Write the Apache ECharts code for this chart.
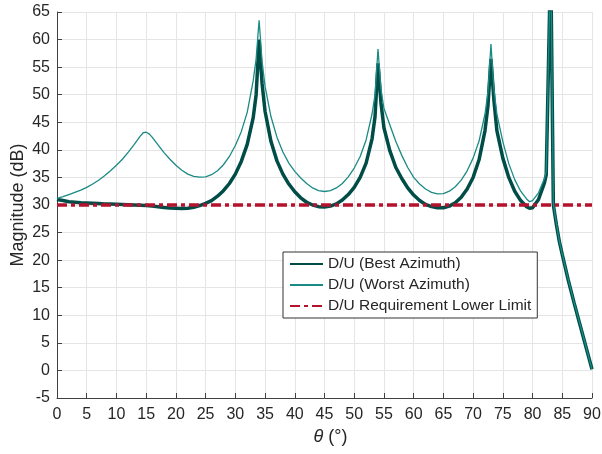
<!DOCTYPE html>
<html>
<head>
<meta charset="utf-8">
<script src="https://cdn.jsdelivr.net/npm/echarts@6/dist/echarts.min.js"></script>
<style>
  html, body { margin: 0; padding: 0; background: #fff; }
  #chart { width: 602px; height: 454px; }
</style>
</head>
<body>
<div id="chart"></div>
<script>
// Elevation angle samples (degrees) and D/U ratio (dB) for the best azimuth
const bestTheta = [0,1,2,3,4,5,6,7,8,9,10,11,12,13,14,15,16,17,18,19,20,21,22,23,24,25,26,27,28,29,30,31,32,33,33.5,34,34.5,35,36,37,38,39,40,41,42,43,44,45,46,47,48,49,50,51,52,53,53.5,54,54.5,55,56,57,58,59,60,61,62,63,64,65,66,67,68,69,70,71,72,72.5,73,73.5,74,75,76,77,78,79,79.5,80,81,82,82.3,83.05,83.5,84,84.5,85,86,87,88,89,90];
const bestDU = [31.0,30.8,30.6,30.5,30.4,30.35,30.3,30.25,30.2,30.2,30.15,30.1,30.05,30.0,29.95,29.9,29.8,29.7,29.55,29.45,29.4,29.35,29.4,29.6,29.9,30.3,30.8,31.6,32.6,33.9,35.6,37.9,41.0,45.8,50.0,60.0,52.0,47.0,41.5,38.0,35.6,33.8,32.4,31.3,30.5,30.0,29.7,29.65,29.8,30.2,30.9,31.9,33.2,35.0,37.6,42.0,46.0,55.7,48.5,44.0,39.8,36.8,34.8,33.1,31.8,30.8,30.1,29.7,29.5,29.5,29.8,30.4,31.4,32.9,35.0,38.2,43.5,48.0,56.5,49.0,43.5,38.5,35.0,32.5,30.8,29.7,29.4,29.5,31.0,34.0,35.5,75.0,30.0,26.5,23.4,21.0,16.4,12.2,8.2,4.2,0.2];

// Elevation angle samples (degrees) and D/U ratio (dB) for the worst azimuth
const worstTheta = [0,1,2,3,4,5,6,7,8,9,10,11,12,13,14,14.5,15,15.5,16,17,18,19,20,21,22,23,24,25,26,27,28,29,30,31,32,33,33.5,34,34.5,35,36,37,38,39,40,41,42,43,44,45,46,47,48,49,50,51,52,53,53.5,54,54.5,55,56,57,58,59,60,61,62,63,64,65,66,67,68,69,70,71,72,72.5,73,73.5,74,75,76,77,78,79,79.5,80,81,82,82.3,83.05,83.5,84,84.5,85,86,87,88,89,90];
const worstDU = [31.2,31.5,31.9,32.3,32.7,33.2,33.8,34.5,35.3,36.2,37.2,38.3,39.6,41.0,42.5,43.1,43.2,42.9,42.3,40.9,39.5,38.3,37.2,36.3,35.6,35.2,35.05,35.1,35.5,36.2,37.3,38.8,40.8,43.3,46.8,52.5,56.5,63.5,56.0,51.5,46.0,42.3,39.6,37.6,36.1,34.9,33.9,33.1,32.6,32.45,32.6,33.1,33.9,35.1,36.7,38.8,41.8,46.5,50.0,58.3,51.0,47.5,44.5,41.5,39.0,36.8,35.0,33.8,32.9,32.3,32.0,32.05,32.5,33.3,34.5,36.2,38.5,41.6,46.5,50.5,59.2,51.0,46.5,41.5,37.5,34.6,32.5,31.1,30.6,30.8,32.2,34.8,36.0,76.0,30.3,26.7,23.5,21.1,16.5,12.3,8.3,4.3,0.2];

// Requirement lower limit
const limitTheta = [0, 90];
const limitDU = [30, 30];

// Axis ticks
const xTicks = { min: 0, max: 90, step: 5 };
const yTicks = { min: -5, max: 65, step: 5 };

const seriesNames = ['D/U (Best Azimuth)', 'D/U (Worst Azimuth)', 'D/U Requirement Lower Limit'];

const pairs = (xs, ys) => xs.map((x, i) => [x, ys[i]]);

const font = '"Liberation Sans", Arial, Helvetica, sans-serif';
const textColor = '#262626';
const axisColor = '#404040';
const gridColor = '#e5e5e5';

const chart = echarts.init(document.getElementById('chart'), null, { renderer: 'canvas' });

chart.setOption({
  animation: false,
  backgroundColor: '#ffffff',
  grid: { left: 57, right: 10, top: 12, bottom: 56, containLabel: false, outerBoundsMode: 'none' },
  xAxis: {
    type: 'value',
    min: xTicks.min, max: xTicks.max, interval: xTicks.step,
    name: '{i|θ} (°)',
    nameLocation: 'middle',
    nameGap: 30,
    nameMoveOverlap: false,
    nameTextStyle: {
      fontFamily: font, fontSize: 18, color: textColor,
      padding: [0, 0, 0, 12],
      rich: { i: { fontFamily: font, fontSize: 18, fontStyle: 'italic', color: textColor } }
    },
    axisLine: { show: true, onZero: false, lineStyle: { color: axisColor, width: 1 } },
    axisTick: { show: true, inside: true, length: 5, lineStyle: { color: axisColor } },
    axisLabel: { fontFamily: font, fontSize: 16, color: textColor, margin: 9 },
    splitLine: { show: true, lineStyle: { color: gridColor, width: 1 } }
  },
  yAxis: {
    type: 'value',
    min: yTicks.min, max: yTicks.max, interval: yTicks.step,
    name: 'Magnitude (dB)',
    nameLocation: 'middle',
    nameGap: 30,
    nameMoveOverlap: false,
    nameTextStyle: { fontFamily: font, fontSize: 18, color: textColor },
    axisLine: { show: true, onZero: false, lineStyle: { color: axisColor, width: 1 } },
    axisTick: { show: true, inside: true, length: 5, lineStyle: { color: axisColor } },
    axisLabel: { fontFamily: font, fontSize: 16, color: textColor, margin: 7 },
    splitLine: { show: true, lineStyle: { color: gridColor, width: 1 } }
  },
  legend: {
    orient: 'vertical',
    left: 283, top: 252,
    itemWidth: 33, itemHeight: 14, itemGap: 5,
    padding: [4, 6, 4, 6],
    backgroundColor: '#ffffff',
    borderColor: '#333333', borderWidth: 1,
    itemStyle: { opacity: 0 },
    textStyle: { fontFamily: font, fontSize: 15.5, lineHeight: 16, color: textColor },
    data: seriesNames
  },
  series: [
    {
      name: seriesNames[0], type: 'line', symbol: 'none', smooth: false, clip: true,
      data: pairs(bestTheta, bestDU),
      lineStyle: { color: '#004D47', width: 3.5 },
      itemStyle: { color: '#004D47' }
    },
    {
      name: seriesNames[1], type: 'line', symbol: 'none', smooth: false, clip: true,
      data: pairs(worstTheta, worstDU),
      lineStyle: { color: '#1A8A85', width: 1.3 },
      itemStyle: { color: '#1A8A85' }
    },
    {
      name: seriesNames[2], type: 'line', symbol: 'none', smooth: false, clip: true,
      data: pairs(limitTheta, limitDU),
      lineStyle: { color: '#B5122E', width: 3.5, type: [10, 4, 4, 4] },
      itemStyle: { color: '#B5122E' }
    }
  ]
});
</script>
</body>
</html>
